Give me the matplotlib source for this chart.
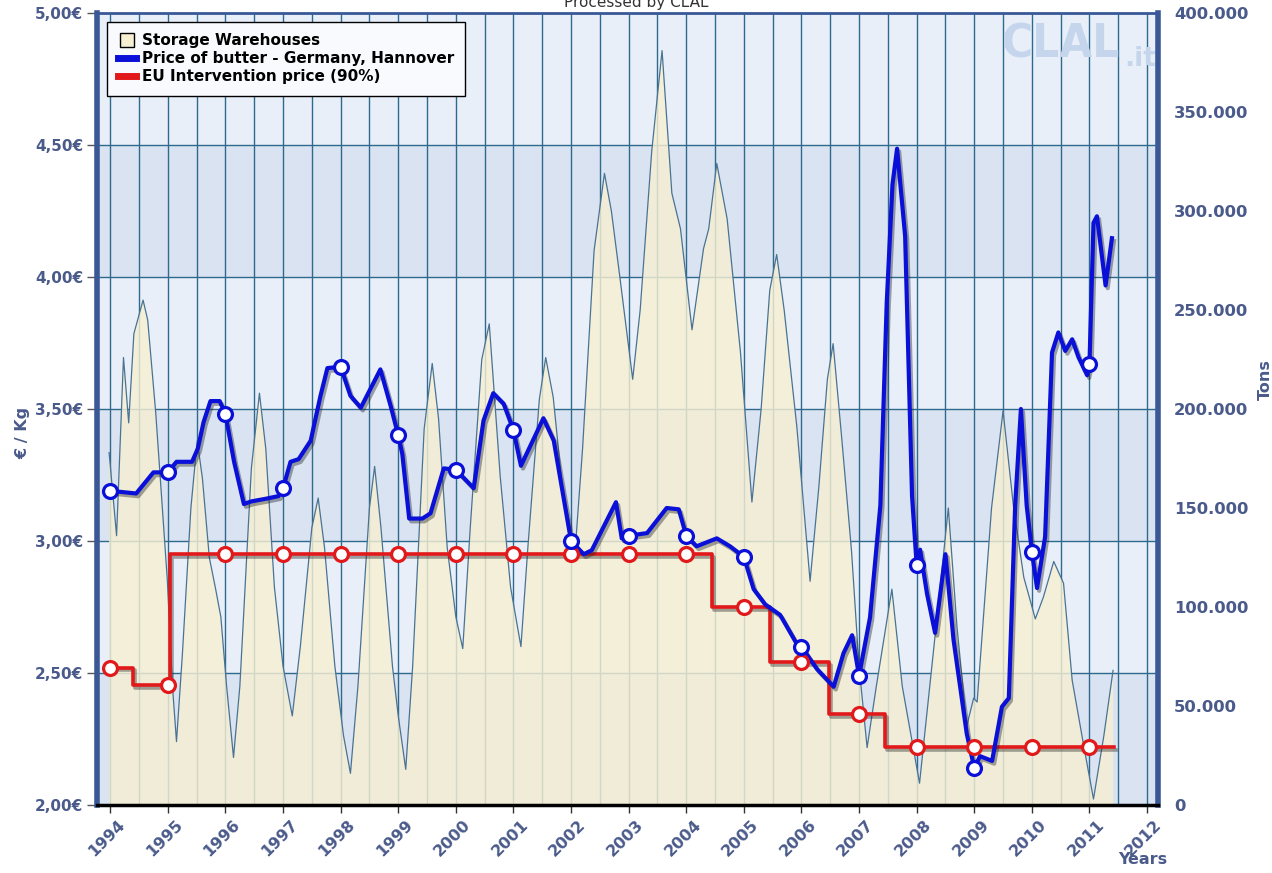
import numpy as np
import matplotlib
matplotlib.use("Agg")
import matplotlib.pyplot as plt
from matplotlib.patches import Rectangle
from matplotlib.lines import Line2D
from matplotlib.transforms import blended_transform_factory, ScaledTranslation
import matplotlib.patheffects as pe

# ---------------- data ----------------
storage_years = [1993.98, 1994.11, 1994.23, 1994.32, 1994.41, 1994.57, 1994.65, 1994.79, 1994.99,
                 1995.08, 1995.15, 1995.25, 1995.40, 1995.51, 1995.60, 1995.72, 1995.83, 1995.92,
                 1996.02, 1996.14, 1996.25, 1996.45, 1996.59, 1996.70, 1996.85, 1997.00, 1997.16,
                 1997.30, 1997.50, 1997.61, 1997.72, 1997.90, 1998.05, 1998.17, 1998.30, 1998.50,
                 1998.59, 1998.70, 1998.90, 1999.00, 1999.13, 1999.25, 1999.45, 1999.59, 1999.70,
                 1999.85, 2000.00, 2000.12, 2000.25, 2000.45, 2000.58, 2000.77, 2000.95, 2001.13,
                 2001.25, 2001.45, 2001.56, 2001.69, 2001.85, 2002.07, 2002.20, 2002.40, 2002.58,
                 2002.70, 2002.85, 2003.07, 2003.20, 2003.40, 2003.58, 2003.75, 2003.90, 2004.10,
                 2004.30, 2004.39, 2004.53, 2004.71, 2004.94, 2005.14, 2005.30, 2005.45, 2005.57,
                 2005.70, 2005.92, 2006.15, 2006.30, 2006.45, 2006.55, 2006.70, 2006.87, 2007.00,
                 2007.14, 2007.30, 2007.57, 2007.75, 2008.05, 2008.30, 2008.55, 2008.70, 2008.87,
                 2008.99, 2009.05, 2009.30, 2009.50, 2009.68, 2009.86, 2010.06, 2010.20, 2010.38,
                 2010.55, 2010.70, 2010.90, 2011.07, 2011.25, 2011.41]
storage_kt = [178, 136, 226, 193, 238, 255, 245, 198, 114,
              60, 32, 75, 150, 184, 165, 125, 109, 95,
              60, 24, 60, 170, 208, 180, 110, 70, 45,
              80, 140, 155, 130, 70, 35, 16, 60, 150,
              171, 140, 70, 45, 18, 70, 190, 223, 195,
              130, 95, 79, 140, 225, 243, 166, 110, 80,
              130, 205, 226, 206, 160, 128, 180, 280, 319,
              300, 266, 215, 250, 330, 381, 309, 291, 240,
              281, 291, 324, 296, 229, 153, 200, 260, 278,
              250, 191, 113, 160, 215, 233, 185, 128, 70,
              29, 60, 109, 60, 11, 80, 150, 90, 40,
              54, 52, 150, 199, 151, 115, 94, 105, 123,
              112, 63, 30, 3, 35, 68]

butter_years = [1994.00, 1994.45, 1994.60, 1994.75, 1995.00, 1995.15, 1995.42, 1995.52, 1995.62,
                1995.74, 1995.90, 1996.00, 1996.15, 1996.32, 1996.45, 1996.70, 1996.92, 1997.00,
                1997.13, 1997.27, 1997.48, 1997.65, 1997.77, 1998.00, 1998.17, 1998.35, 1998.69,
                1998.87, 1999.00, 1999.07, 1999.19, 1999.42, 1999.56, 1999.79, 2000.00, 2000.31,
                2000.48, 2000.65, 2000.83, 2001.00, 2001.13, 2001.52, 2001.70, 2002.00, 2002.22,
                2002.36, 2002.78, 2002.88, 2003.00, 2003.32, 2003.66, 2003.87, 2004.00, 2004.18,
                2004.53, 2004.76, 2005.00, 2005.17, 2005.37, 2005.63, 2005.92, 2006.00, 2006.27,
                2006.56, 2006.73, 2006.88, 2007.00, 2007.19, 2007.37, 2007.48, 2007.58, 2007.66,
                2007.80, 2007.92, 2008.00, 2008.06, 2008.18, 2008.32, 2008.50, 2008.64, 2008.87,
                2009.00, 2009.10, 2009.31, 2009.48, 2009.60, 2009.71, 2009.81, 2009.91, 2010.00,
                2010.09, 2010.23, 2010.35, 2010.46, 2010.58, 2010.70, 2010.81, 2010.96, 2011.00,
                2011.07, 2011.13, 2011.28, 2011.39]
butter_price = [3.19, 3.18, 3.22, 3.26, 3.26, 3.30, 3.30, 3.35, 3.45,
                3.53, 3.53, 3.48, 3.30, 3.14, 3.15, 3.16, 3.17, 3.20,
                3.30, 3.31, 3.38, 3.55, 3.655, 3.66, 3.55, 3.505, 3.65,
                3.51, 3.40, 3.33, 3.085, 3.085, 3.105, 3.275, 3.27, 3.20,
                3.456, 3.56, 3.52, 3.42, 3.285, 3.465, 3.38, 3.00, 2.95,
                2.965, 3.147, 3.01, 3.02, 3.03, 3.125, 3.12, 3.02, 2.98,
                3.01, 2.98, 2.94, 2.818, 2.76, 2.72, 2.61, 2.60, 2.515,
                2.448, 2.575, 2.643, 2.49, 2.71, 3.135, 3.90, 4.35, 4.486,
                4.155, 3.17, 2.91, 2.967, 2.80, 2.652, 2.95, 2.626, 2.27,
                2.14, 2.185, 2.167, 2.372, 2.405, 3.135, 3.50, 3.135, 2.96,
                2.822, 3.016, 3.714, 3.79, 3.72, 3.764, 3.696, 3.628, 3.67,
                4.205, 4.23, 3.968, 4.147]

interv_dates = [1994.00, 1994.40, 1995.04, 2004.45, 2005.46, 2006.47, 2007.45, 2011.42]
interv_price = [2.52, 2.455, 2.95, 2.75, 2.54, 2.345, 2.22, 2.22]

year_ticks = list(range(1994, 2013))
euro_ticks = [2.0, 2.5, 3.0, 3.5, 4.0, 4.5, 5.0]
tons_ticks = [0, 50000, 100000, 150000, 200000, 250000, 300000, 350000, 400000]
legend_labels = ["Storage Warehouses", "Price of butter - Germany, Hannover",
                 "EU Intervention price (90%)"]

# ---------------- style ----------------
plt.rcParams["font.family"] = ["DejaVu Sans"]
plt.rcParams["font.weight"] = "bold"
label_col = "#4a5a8a"
spine_col = "#3a5896"
grid_col = "#2f6a8e"
band_light = "#e8eff9"
band_dark = "#d9e3f1"
cream = "#f6efd2"
blue = "#0a10d8"
red = "#e2191b"

fig = plt.figure(figsize=(12.72, 8.73), dpi=100)
rect = [97 / 1272, 68 / 873, 1061 / 1272, 792 / 873]
ax2 = fig.add_axes(rect)                 # tons, bottom layer
ax = fig.add_axes(rect, sharex=ax2)      # euro, top layer
ax.patch.set_visible(False)

ax.set_xlim(1993.77, 2012.19)
ax.set_ylim(2.0, 5.0)
ax2.set_ylim(0, 400000)

blend = blended_transform_factory(ax2.transAxes, ax.transData)

# background bands
for i, lo in enumerate(euro_ticks[:-1]):
    col = band_dark if i % 2 == 0 else band_light
    ax2.add_patch(Rectangle((0, lo), 1, 0.5, transform=blend, facecolor=col,
                            edgecolor="none", zorder=0))
# grid
for v in euro_ticks[1:-1]:
    ax2.plot([0, 1], [v, v], transform=blend, color=grid_col, lw=1.0, zorder=1)
for yr in np.arange(1994, 2012.01, 0.5):
    ax2.axvline(yr, color=grid_col, lw=1.0, zorder=1)

# storage area
st = np.array(storage_kt) * 1000.0
ax2.fill_between(storage_years, st, 0, facecolor=cream, alpha=0.82, lw=0, zorder=2)
ax2.plot(storage_years, st, color="#4a7393", lw=0.9, zorder=3)

# watermark
ax2.text(0.853, 0.988, "CLAL", transform=ax2.transAxes, fontsize=34, fontstretch="condensed",
         color="#c5d5ec", ha="left", va="top", zorder=1)
ax2.text(0.968, 0.958, ".it", transform=ax2.transAxes, fontsize=19,
         color="#c5d5ec", ha="left", va="top", zorder=1)

# price lines
shadow = [pe.SimpleLineShadow(offset=(1.5, -2), shadow_color="#222222", alpha=0.4),
          pe.Normal()]
ax.plot(interv_dates, interv_price, drawstyle="steps-post", color=red, lw=2.6,
        zorder=4, path_effects=shadow, solid_joinstyle="round")
ax.plot(butter_years, butter_price, color=blue, lw=3.0, zorder=5,
        path_effects=shadow, solid_joinstyle="round")

mark_years = np.arange(1994, 2012)
idx = np.searchsorted(interv_dates, mark_years, side="right") - 1
ax.plot(mark_years, np.array(interv_price)[idx], ls="none", marker="o", ms=10,
        mfc="white", mec=red, mew=2.3, zorder=6)
by = np.array(butter_years)
sel = np.isclose(by, np.round(by))
ax.plot(by[sel], np.array(butter_price)[sel], ls="none", marker="o", ms=10,
        mfc="white", mec=blue, mew=2.3, zorder=7)

# axes, ticks
ax.set_yticks(euro_ticks)
ax.set_yticklabels([f"{v:.2f}".replace(".", ",") + "€" for v in euro_ticks])
ax.tick_params(axis="y", left=True, right=False, length=7, width=1, color="#555555",
               labelsize=11, labelcolor=label_col, pad=3)
ax.set_xticks(year_ticks)
ax.set_xticklabels([str(y) for y in year_ticks], rotation=45, ha="right",
                   rotation_mode="anchor")
ax.tick_params(axis="x", length=6, width=1, color="#333333", labelsize=11.5,
               labelcolor=label_col, pad=3)
shift = ScaledTranslation(7 / 100, 0, fig.dpi_scale_trans)
for lab in ax.get_xticklabels():
    lab.set_transform(lab.get_transform() + shift)
ax2.tick_params(axis="x", bottom=False, labelbottom=False)

ax2.yaxis.tick_right()
ax2.set_yticks(tons_ticks)
ax2.set_yticklabels([f"{t:,}".replace(",", ".") for t in tons_ticks])
ax2.tick_params(axis="y", right=False, left=False, labelsize=11.8, labelcolor=label_col, pad=8)

ax.set_ylabel("€ / Kg", fontsize=11.5, color=label_col, fontweight="bold")
ax.yaxis.set_label_coords(-0.063, 0.47)
ax2.yaxis.set_label_position("right")
ax2.set_ylabel("Tons", fontsize=11.5, color=label_col, fontweight="bold")
ax2.yaxis.set_label_coords(1.094, 0.537)

for s in ax2.spines.values():
    s.set_visible(False)
ax.spines["left"].set_color(spine_col)
ax.spines["left"].set_linewidth(4)
ax.spines["right"].set_color(spine_col)
ax.spines["right"].set_linewidth(4)
ax.spines["top"].set_color(spine_col)
ax.spines["top"].set_linewidth(2)
ax.spines["bottom"].set_color("black")
ax.spines["bottom"].set_linewidth(2.5)

# legend
handles = [Line2D([], [], ls="none", marker="s", ms=10, mfc=cream, mec="black", mew=1),
           Line2D([], [], color=blue, lw=5),
           Line2D([], [], color=red, lw=5)]
leg = ax.legend(handles, legend_labels, loc="upper left", bbox_to_anchor=(0.009, 0.989),
                borderaxespad=0, fontsize=11, handlelength=1.2, handletextpad=0.35,
                labelspacing=0.2, borderpad=0.75, fancybox=False, framealpha=1,
                edgecolor="black", facecolor="#f8fafd")
leg.get_frame().set_linewidth(1)
leg.set_zorder(10)

fig.text(0.5, 1 - 2 / 873, "Processed by CLAL", ha="center", va="center",
         fontsize=11, fontweight="normal", color="#333333")
fig.text(1143 / 1272, 1 - 860 / 873, "Years", ha="center", va="center",
         fontsize=11.5, color=label_col, fontweight="bold")

fig.savefig("out.png", dpi=100)
